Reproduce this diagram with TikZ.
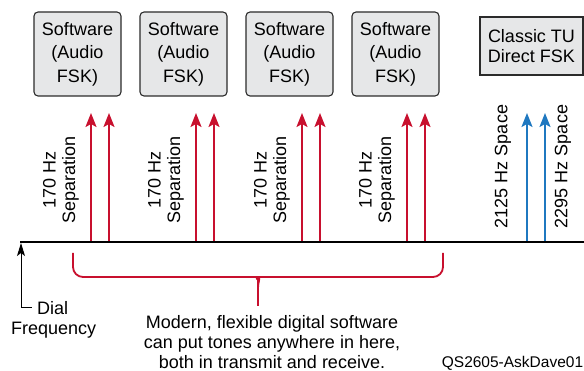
\documentclass[tikz,border=0pt]{standalone}
\usepackage{fontspec}
\setmainfont{Liberation Sans}
\usetikzlibrary{arrows.meta}
\definecolor{tonered}{HTML}{C8102E}
\definecolor{toneblue}{HTML}{1F78C0}
\definecolor{boxgray}{HTML}{E6E7E8}
\definecolor{boxedge}{HTML}{2B2B2B}

\begin{document}
\begin{tikzpicture}[x=1pt,y=-1pt,
  every node/.style={inner sep=0pt, font=\fontsize{18}{20}\selectfont},
  swbox/.style={draw=boxedge, fill=boxgray, rounded corners=4pt, line width=1.1pt,
    minimum width=87pt, minimum height=84pt, align=center,
    font=\fontsize{18}{23.5}\selectfont},
  tubox/.style={draw=boxedge, fill=boxgray, line width=1.1pt,
    minimum width=103pt, minimum height=58pt, align=center,
    font=\fontsize{18}{20.5}\selectfont},
  redtone/.style={tonered, line width=2pt, -{Stealth[width=11pt,length=14pt,inset=3pt]}},
  bluetone/.style={toneblue, line width=2pt, -{Stealth[width=11pt,length=14pt,inset=3pt]}},
  seplabel/.style={rotate=90, align=center, font=\fontsize{18}{19.5}\selectfont},
  spacelabel/.style={rotate=90},
  brace/.style={tonered, line width=1.8pt}
]
\useasboundingbox (0,0) rectangle (584,371);

% software decoder boxes
\foreach \i/\x in {1/77.5,2/183.5,3/289.5,4/395.5}
  \node[swbox] (sw\i) at (\x,54) {Software\\(Audio\\FSK)};
\node[tubox] (tu) at (531.5,46) {Classic TU\\Direct FSK};

% mark/space tone pairs for audio FSK
\foreach \i/\x in {1/91,2/196,3/302,4/407} {
  \coordinate (lo\i) at (\x,242);
  \coordinate (lo\i top) at (\x,113);
  \coordinate (hi\i) at ({\x+18},242);
  \coordinate (hi\i top) at ({\x+18},113);
  \draw[redtone] (lo\i) -- (lo\i top);
  \draw[redtone] (hi\i) -- (hi\i top);
  \node[seplabel] (sep\i) at ({\x-30},180) {170 Hz\\Separation};
}

% classic terminal unit tones
\coordinate (m1) at (527,242); \coordinate (m1top) at (527,113);
\coordinate (m2) at (545,242); \coordinate (m2top) at (545,113);
\draw[bluetone] (m1) -- (m1top);
\draw[bluetone] (m2) -- (m2top);
\node[spacelabel] (sp1) at (503,166.5) {2125 Hz Space};
\node[spacelabel] (sp2) at (563,166.5) {2295 Hz Space};

% frequency axis
\coordinate (axL) at (20,242);
\coordinate (axR) at (584,242);
\draw[line width=2.2pt] (axL) -- (axR);

% dial frequency marker
\coordinate (dialtip) at (21,243);
\coordinate (dialcorner) at (21,308);
\coordinate (dialend) at (32,308);
\draw[line width=1pt, {Stealth[width=8pt,length=13pt,inset=3pt]}-] (dialtip) -- (dialcorner) -- (dialend);
\node[anchor=base west] (dial) at (37,314.5) {Dial};
\node[anchor=base west] (freq) at (11,334.5) {Frequency};

% brace spanning the software passband
\coordinate (brL) at (73,253);
\coordinate (brR) at (443,253);
\coordinate (brTip) at (258,306);
\draw[brace, rounded corners=10pt] (brL) -- (73,277) -- (248,277)
  .. controls (255,277) and (258,281) .. (258,289) -- (brTip);
\draw[brace, rounded corners=10pt] (brR) -- (443,277) -- (268,277)
  .. controls (261,277) and (258,281) .. (258,289);

\node[align=center] (note) at (272,342)
  {Modern, flexible digital software\\can put tones anywhere in here,\\both in transmit and receive.};
\node[font=\fontsize{15.5}{18}\selectfont] (tag) at (512.5,363) {QS2605-AskDave01};
\end{tikzpicture}
\end{document}
